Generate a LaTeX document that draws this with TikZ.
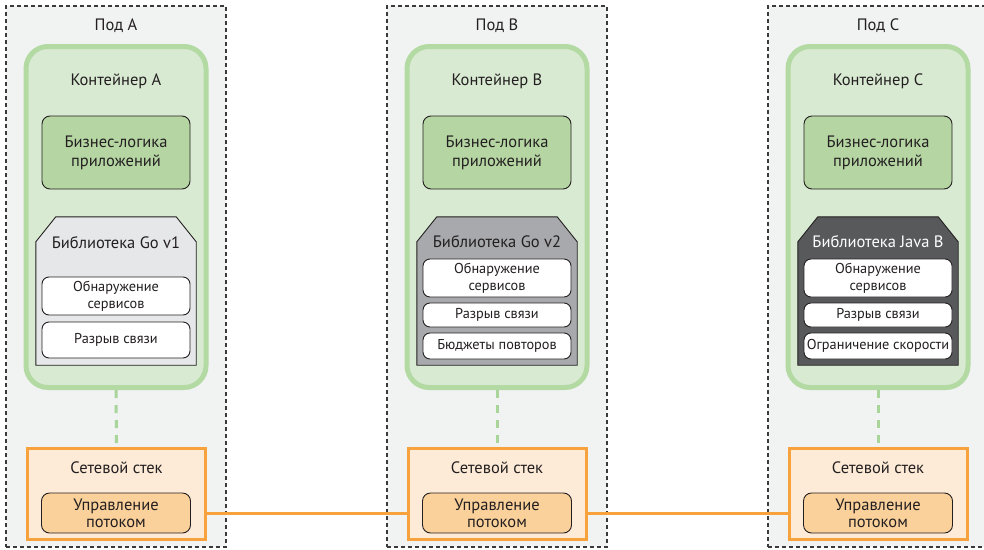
\documentclass[tikz,border=0pt]{standalone}
\usepackage{fontspec}
\setmainfont{PT Sans}
\usetikzlibrary{calc}

\definecolor{podfill}{HTML}{F1F2F2}
\definecolor{podline}{HTML}{3A3A3A}
\definecolor{ctfill}{HTML}{D9EAD3}
\definecolor{ctline}{HTML}{B3DAA2}
\definecolor{bizfill}{HTML}{B5D6A3}
\definecolor{ink}{HTML}{231F20}
\definecolor{libA}{HTML}{E6E7E8}
\definecolor{libB}{HTML}{A7A9AC}
\definecolor{libC}{HTML}{58595B}
\definecolor{netfill}{HTML}{FDEBD7}
\definecolor{netline}{HTML}{F7A23C}
\definecolor{flowfill}{HTML}{FBD19B}
\definecolor{linkgreen}{HTML}{A9D59B}

\tikzset{
  pod/.style={draw=podline, fill=podfill, line width=1.3pt, dash pattern=on 4pt off 3pt,
    minimum width=220pt, minimum height=541pt, inner sep=0pt},
  lbl/.style={font=\fontsize{16.5}{19}\selectfont, text=ink, inner sep=0pt},
  container/.style={draw=ctline, fill=ctfill, line width=5pt, rounded corners=22pt,
    minimum width=180pt, minimum height=341pt, inner sep=0pt},
  biz/.style={draw=ink, fill=bizfill, line width=0.9pt, rounded corners=8pt,
    minimum width=148pt, minimum height=73pt, align=center, inner sep=0pt,
    font=\fontsize{16.5}{19}\selectfont, text=ink},
  libframe/.style={minimum width=160pt, minimum height=148pt, inner sep=0pt},
  libshape/.style={draw=ink, line width=0.9pt},
  feature/.style={draw=ink, fill=white, line width=0.9pt, rounded corners=7pt,
    minimum width=148pt, align=center, inner sep=0pt,
    font=\fontsize{14.3}{17}\selectfont, text=ink},
  netstack/.style={draw=netline, fill=netfill, line width=3pt,
    minimum width=178pt, minimum height=91pt, inner sep=0pt},
  flow/.style={draw=ink, fill=flowfill, line width=0.9pt, rounded corners=8pt,
    minimum width=149pt, minimum height=40pt, align=center, inner sep=0pt,
    font=\fontsize{16.5}{17}\selectfont, text=ink},
  netlink/.style={draw=netline, line width=3pt},
  uplink/.style={draw=linkgreen, line width=3pt, dash pattern=on 8pt off 7pt},
}

% chamfered library outline around a frame node
\newcommand{\libraryshape}[2]{%
  \path[libshape, fill=#2]
    ($(#1.north west)+(0,25)$) -- ($(#1.north west)+(20,0)$)
    -- ($(#1.north east)+(-20,0)$) -- ($(#1.north east)+(0,25)$)
    -- (#1.south east) -- (#1.south west) -- cycle;}

\begin{document}
\begin{tikzpicture}[x=1pt,y=-1pt]
\useasboundingbox (0,0) rectangle (984,549);
\clip (0,0) rectangle (984,549);

% pods
\node[pod] (podA) at (116,276.5) {};
\node[pod] (podB) at (497,276.5) {};
\node[pod] (podC) at (878,276.5) {};
\node[lbl] (podAt) at (116,26) {Под A};
\node[lbl] (podBt) at (497,26) {Под B};
\node[lbl] (podCt) at (878,26) {Под C};

% containers
\node[container] (ctA) at (116,217) {};
\node[container] (ctB) at (497,217) {};
\node[container] (ctC) at (878,217) {};
\node[lbl] (ctAt) at (116,81) {Контейнер A};
\node[lbl] (ctBt) at (497,81) {Контейнер B};
\node[lbl] (ctCt) at (878,81) {Контейнер C};

% business logic
\node[biz] (bizA) at (116,152.5) {Бизнес-логика\\приложений};
\node[biz] (bizB) at (497,152.5) {Бизнес-логика\\приложений};
\node[biz] (bizC) at (878,152.5) {Бизнес-логика\\приложений};

% libraries
\node[libframe] (libA) at (116,291) {};
\node[libframe] (libB) at (497,291) {};
\node[libframe] (libC) at (878,291) {};
\libraryshape{libA}{libA}
\libraryshape{libB}{libB}
\libraryshape{libC}{libC}
\node[lbl] (libAt) at (116,243) {Библиотека Go v1};
\node[lbl] (libBt) at (497,242) {Библиотека Go v2};
\node[lbl, text=white] (libCt) at (878,242) {Библиотека Java B};

\node[feature, minimum height=38pt] (sdA) at (116,296) {Обнаружение\\сервисов};
\node[feature, minimum height=36pt] (cbA) at (116,340) {Разрыв связи};

\node[feature, minimum height=38pt] (sdB) at (497,278) {Обнаружение\\сервисов};
\node[feature, minimum height=24pt] (cbB) at (497,315) {Разрыв связи};
\node[feature, minimum height=26pt] (rbB) at (497,346) {Бюджеты повторов};

\node[feature, minimum height=38pt] (sdC) at (878,278) {Обнаружение\\сервисов};
\node[feature, minimum height=24pt] (cbC) at (878,315) {Разрыв связи};
\node[feature, minimum height=26pt] (rlC) at (878,346) {Ограничение скорости};

% network stacks
\node[netstack] (netA) at (116.5,494) {};
\node[netstack] (netB) at (497,494) {};
\node[netstack] (netC) at (878,494) {};
\node[lbl] (netAt) at (116.5,468) {Сетевой стек};
\node[lbl] (netBt) at (497,468) {Сетевой стек};
\node[lbl] (netCt) at (878,468) {Сетевой стек};
\node[flow] (flA) at (116,513) {Управление\\потоком};
\node[flow] (flB) at (497,513) {Управление\\потоком};
\node[flow] (flC) at (878,513) {Управление\\потоком};

% container to network stack
\draw[uplink] (ctA.south) -- (netA.north);
\draw[uplink] (ctB.south) -- (netB.north);
\draw[uplink] (ctC.south) -- (netC.north);

% links between pods
\draw[netlink] (netA.east |- flA) -- (netB.west |- flB);
\draw[netlink] (netB.east |- flB) -- (netC.west |- flC);
\end{tikzpicture}
\end{document}
